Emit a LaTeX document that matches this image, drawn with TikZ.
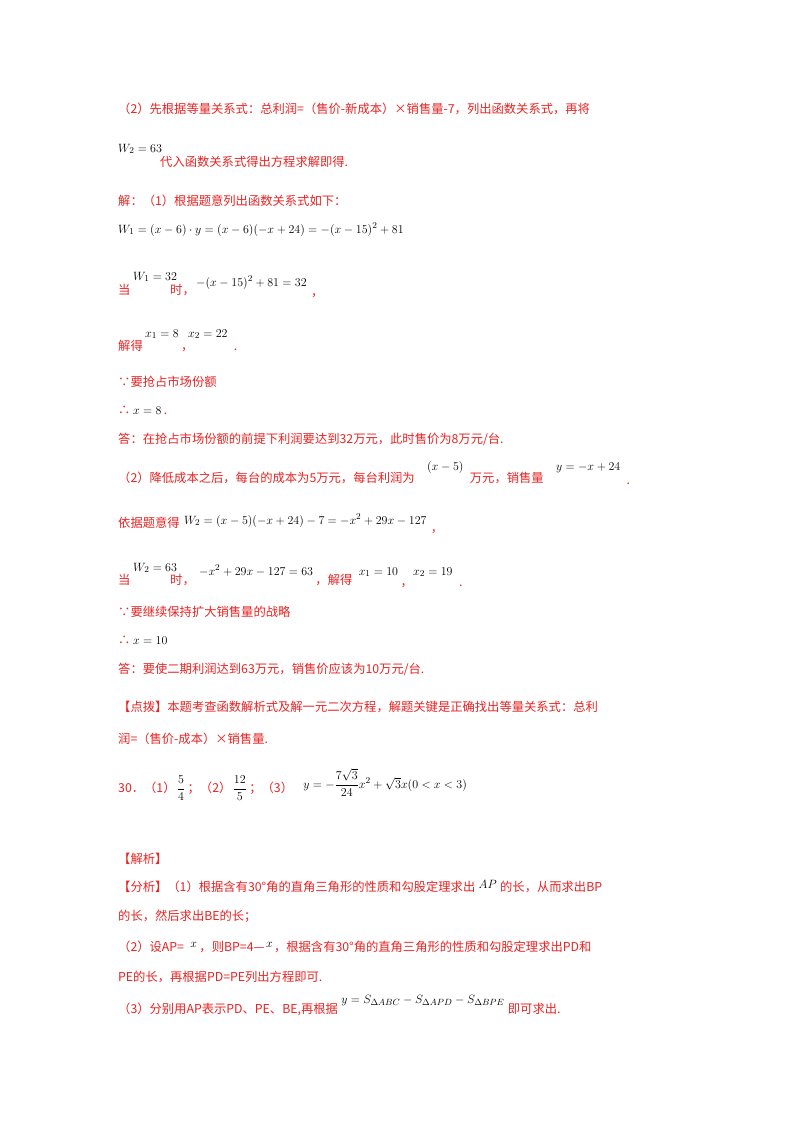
\documentclass[tikz,border=0pt]{standalone}
\usepackage{amsmath}
\usepackage{fontspec}
\setmainfont{Liberation Serif}
\newfontfamily\cjk{Noto Sans CJK SC}
\definecolor{rd}{RGB}{232,36,36}
\tikzset{t/.style={anchor=base west,inner sep=0pt,text=rd,font=\cjk\fontsize{12.3}{14}\selectfont},
m/.style={anchor=base west,inner sep=0pt,text=black,font=\fontsize{13}{15}\selectfont}}
\begin{document}
\begin{tikzpicture}[x=1pt,y=-1pt]
\useasboundingbox (0,0) rectangle (800,1132);
\fill[white] (0,0) rectangle (800,1132);
\node[t] (a1) at (118,113) {（2）先根据等量关系式：总利润=（售价-新成本）×销售量-7，列出函数关系式，再将};
\node[m] (a2) at (118,152) {$W_2=63$};
\node[t] (a3) at (160,166) {代入函数关系式得出方程求解即得.};
\node[t] (a4) at (118,205) {解：（1）根据题意列出函数关系式如下：};
\node[m] (a5) at (118,233) {$W_1=(x-6)\cdot y=(x-6)(-x+24)=-(x-15)^2+81$};
\node[t] (b1) at (118,294) {当};
\node[m] (b2) at (133,280) {$W_1=32$};
\node[t] (b3) at (170,294) {时，};
\node[m] (b4) at (196,286) {$-(x-15)^2+81=32$};
\node[t,xshift=4,yshift=-10] (b5) at (b4.base east) {，};
\node[t] (c1) at (118,350) {解得};
\node[m] (c2) at (145,337) {$x_1=8$};
\node[t,xshift=2,yshift=-13] (c3) at (c2.base east) {，};
\node[m] (c4) at (188,337) {$x_2=22$};
\node[t,xshift=6,yshift=-13] (c5) at (c4.base east) {.};
\node[t] (d1) at (118,386) {∵要抢占市场份额};
\node[t] (d2) at (118,414) {∴};
\node[m] (d3) at (133,414) {$x=8$};
\node[t,xshift=2] (d4) at (d3.base east) {.};
\node[t] (d5) at (118,443) {答：在抢占市场份额的前提下利润要达到32万元，此时售价为8万元/台.};
\node[t] (e1) at (118,482) {（2）降低成本之后，每台的成本为5万元，每台利润为};
\node[m,xshift=12,yshift=12] (e2) at (e1.base east) {$(x-5)$};
\node[t,xshift=6,yshift=-12] (e3) at (e2.base east) {万元，销售量};
\node[m,xshift=12,yshift=12] (e4) at (e3.base east) {$y=-x+24$};
\node[t,xshift=6,yshift=-14] (e5) at (e4.base east) {.};
\node[t] (f1) at (118,527) {依据题意得};
\node[m,xshift=4,yshift=3] (f2) at (f1.base east) {$W_2=(x-5)(-x+24)-7=-x^2+29x-127$};
\node[t,xshift=4,yshift=-8] (f3) at (f2.base east) {，};
\node[t] (g1) at (118,584) {当};
\node[m] (g2) at (133,571) {$W_2=63$};
\node[t] (g3) at (170,584) {时，};
\node[m,xshift=4,yshift=9] (g4) at (g3.base east) {$-x^2+29x-127=63$};
\node[t,xshift=2,yshift=-9] (g5) at (g4.base east) {，解得};
\node[m,xshift=6,yshift=9] (g6) at (g5.base east) {$x_1=10$};
\node[t,xshift=2,yshift=-11] (g7) at (g6.base east) {，};
\node[m,xshift=0,yshift=11] (g8) at (g7.base east) {$x_2=19$};
\node[t,xshift=6,yshift=-11] (g9) at (g8.base east) {.};
\node[t] (h1) at (118,616) {∵要继续保持扩大销售量的战略};
\node[t] (h2) at (118,644) {∴};
\node[m] (h3) at (133,644) {$x=10$};
\node[t] (h4) at (118,673) {答：要使二期利润达到63万元，销售价应该为10万元/台.};
\node[t] (i1) at (118,711) {【点拨】本题考查函数解析式及解一元二次方程，解题关键是正确找出等量关系式：总利};
\node[t] (i2) at (118,743) {润=（售价-成本）×销售量.};
\node[t] (j1) at (118,792) {30．（1）};
\node[m,xshift=1] (j2) at (j1.base east) {$\dfrac{5}{4}$};
\node[t,xshift=2] (j3) at (j2.base east) {；（2）};
\node[m,xshift=1] (j4) at (j3.base east) {$\dfrac{12}{5}$};
\node[t,xshift=2] (j5) at (j4.base east) {；（3）};
\node[m,xshift=10,yshift=4] (j6) at (j5.base east) {$y=-\dfrac{7\sqrt{3}}{24}x^2+\sqrt{3}x(0<x<3)$};
\node[t] (k1) at (118,863) {【解析】};
\node[t] (k2) at (118,891) {【分析】（1）根据含有30°角的直角三角形的性质和勾股定理求出};
\node[m,xshift=3,yshift=3] (k3) at (k2.base east) {$AP$};
\node[t,xshift=3,yshift=-3] (k4) at (k3.base east) {的长，从而求出BP};
\node[t] (k5) at (118,920) {的长，然后求出BE的长；};
\node[t] (l1) at (118,951) {（2）设AP=};
\node[m,xshift=6,yshift=4] (l2) at (l1.base east) {$x$};
\node[t,xshift=2,yshift=-4] (l3) at (l2.base east) {，则BP=4—};
\node[m,xshift=1,yshift=4] (l4) at (l3.base east) {$x$};
\node[t,xshift=1,yshift=-4] (l5) at (l4.base east) {，根据含有30°角的直角三角形的性质和勾股定理求出PD和};
\node[t] (l6) at (118,981) {PE的长，再根据PD=PE列出方程即可.};
\node[t] (n1) at (118,1013) {（3）分别用AP表示PD、PE、BE,再根据};
\node[m,xshift=3,yshift=10] (n2) at (n1.base east) {$y=S_{\Delta ABC}-S_{\Delta APD}-S_{\Delta BPE}$};
\node[t,xshift=3,yshift=-10] (n3) at (n2.base east) {即可求出.};
\end{tikzpicture}
\end{document}
